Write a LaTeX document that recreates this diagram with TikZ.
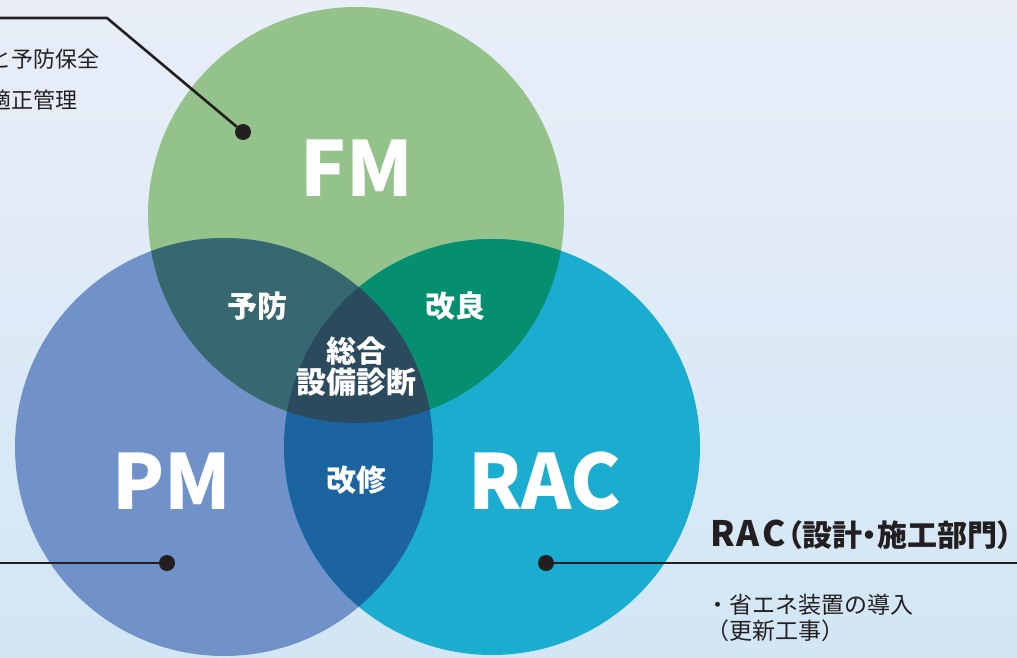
\documentclass[tikz,border=0pt]{standalone}
\usepackage{fontspec}
\setmainfont{Noto Sans CJK JP}
\newfontfamily\paltfont{Noto Sans CJK JP}[RawFeature=+palt]
\usepackage{xcolor}
\definecolor{bgtop}{HTML}{E9EEF8}
\definecolor{bgbot}{HTML}{D2E6F5}
\definecolor{fmgreen}{HTML}{94C28B}
\definecolor{pmblue}{HTML}{7192C9}
\definecolor{raccyan}{HTML}{1AADD0}
\definecolor{fmpm}{HTML}{376870}
\definecolor{fmrac}{HTML}{058F6E}
\definecolor{pmrac}{HTML}{1C64A0}
\definecolor{allthree}{HTML}{2C4A5E}
\definecolor{inkblack}{HTML}{231F20}
\tikzset{
  bigname/.style={text=white, font=\bfseries\fontsize{76}{76}\selectfont},
  overlap/.style={text=white, font=\bfseries\fontsize{30}{31}\selectfont, align=center},
  dot/.style={circle, fill=inkblack, inner sep=0pt, minimum size=16pt},
  leader/.style={draw=inkblack, line width=2.6pt},
  note/.style={text=inkblack, inner sep=0pt, font=\fontsize{22}{22}\selectfont}
}

\begin{document}
\begin{tikzpicture}[x=1pt, y=-1pt]
\useasboundingbox (0,0) rectangle (1017,658);
\shade[top color=bgtop, bottom color=bgbot] (0,0) rectangle (1017,658);
\coordinate (fmc) at (356, 215);
\coordinate (pmc) at (224, 447);
\coordinate (racc) at (492, 447);
% circles
\fill[fmgreen] (fmc) circle (208);
\fill[pmblue] (pmc) circle (209);
\fill[raccyan] (racc) circle (208);
% overlaps
\begin{scope}
\clip (fmc) circle (208);
\fill[fmpm] (pmc) circle (209);
\fill[fmrac] (racc) circle (208);
\end{scope}
\begin{scope}
\clip (pmc) circle (209);
\fill[pmrac] (racc) circle (208);
\clip (racc) circle (208);
\fill[allthree] (fmc) circle (208);
\end{scope}
% labels
\node[bigname] at (357, 168) (fm) {FM};
\node[bigname] at (172, 481) (pm) {PM};
\node[bigname] at (545, 481) (rac) {RAC};
\node[overlap] at (257, 306) (yobo) {予防};
\node[overlap] at (455, 306) (kairyo) {改良};
\node[overlap] at (356, 367) (sogo) {総合\\設備診断};
\node[overlap] at (356, 480) (kaishu) {改修};
% leaders
\node[dot] at (243, 132) (fmdot) {};
\node[dot] at (167, 563) (pmdot) {};
\node[dot] at (546, 563) (racdot) {};
\coordinate (fmend) at (0, 18);
\coordinate (fmbend) at (107, 18);
\coordinate (pmend) at (0, 563);
\coordinate (racend) at (1017, 563);
\draw[leader] (fmend) -- (fmbend) -- (fmdot);
\draw[leader] (pmend) -- (pmdot);
\draw[leader] (racdot) -- (racend);
% notes
\node[note, anchor=west] at (-11, 59) (fmnote1) {と予防保全};
\node[note, anchor=west] at (-11, 100) (fmnote2) {適正管理};
\node[anchor=base west, inner sep=0pt, text=inkblack, font=\bfseries] at (710, 546) (ractitle)
  {\fontsize{35}{35}\selectfont R\kern2pt A\kern2pt C\kern2pt\paltfont\fontsize{30}{30}\selectfont（設計・施工部門）};
\node[anchor=north west, inner sep=0pt, text=inkblack, align=left,
  font=\fontsize{23}{26}\selectfont] at (706, 594) (racnote)
  {・省エネ装置の導入\\（更新工事）};
\end{tikzpicture}
\end{document}
